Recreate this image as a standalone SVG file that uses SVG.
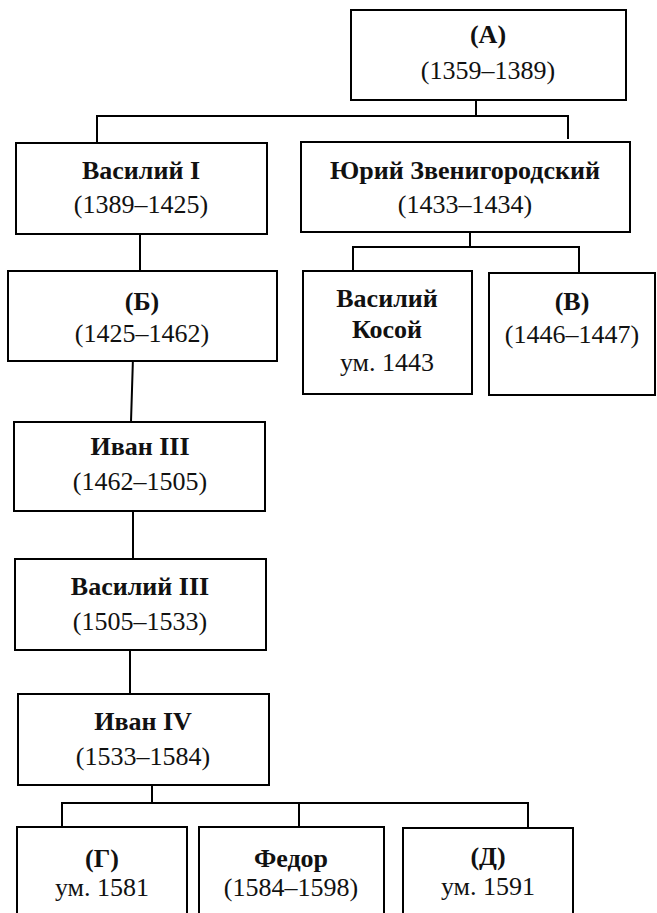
<svg xmlns="http://www.w3.org/2000/svg" width="657" height="913" viewBox="0 0 657 913">
<style>
rect{fill:#fff;stroke:#000;stroke-width:2}
.c path{fill:none;stroke:#000;stroke-width:2}
text{font-family:'Liberation Serif','Times New Roman',serif;font-size:26px;text-anchor:middle;fill:#111}
.b{font-weight:bold}
</style>
<rect x="0" y="0" width="657" height="913" style="stroke:none"/>
<g class="c">
<path d="M476 95V116M97 143V116H568V139"/>
<path d="M140 225V272"/>
<path d="M470 227V247M353 271V247H579V273"/>
<path d="M133 357L131 422"/>
<path d="M133 507V559"/>
<path d="M130 643V694"/>
<path d="M152 782V803M62 827V803H528V828M299 803V827"/>
</g>
<g id="a"><rect x="351" y="10" width="275" height="90"/><text x="488" y="43" class="b">(A)</text><text x="488" y="79">(1359–1389)</text></g>
<g id="vasily1"><rect x="16" y="143" width="251" height="91"/><text x="141" y="179" class="b">Василий I</text><text x="141" y="213">(1389–1425)</text></g>
<g id="yuri"><rect x="301" y="142" width="329" height="90"/><text x="465" y="179" class="b">Юрий Звенигородский</text><text x="465" y="213">(1433–1434)</text></g>
<g id="b"><rect x="8" y="271" width="269" height="90"/><text x="142" y="310" class="b">(Б)</text><text x="142" y="342">(1425–1462)</text></g>
<g id="kosoy"><rect x="303" y="271" width="169" height="123"/><text x="387" y="307" class="b">Василий</text><text x="387" y="338" class="b">Косой</text><text x="387" y="371">ум. 1443</text></g>
<g id="v"><rect x="489" y="273" width="166" height="122"/><text x="572" y="310" class="b">(В)</text><text x="572" y="343">(1446–1447)</text></g>
<g id="ivan3"><rect x="14" y="422" width="251" height="89"/><text x="140" y="455" class="b">Иван III</text><text x="140" y="490">(1462–1505)</text></g>
<g id="vasily3"><rect x="15" y="559" width="251" height="91"/><text x="140" y="595" class="b">Василий III</text><text x="140" y="630">(1505–1533)</text></g>
<g id="ivan4"><rect x="18" y="694" width="251" height="91"/><text x="143" y="730" class="b">Иван IV</text><text x="143" y="765">(1533–1584)</text></g>
<g id="g"><rect x="17" y="827" width="170" height="100"/><text x="102" y="867" class="b">(Г)</text><text x="102" y="896">ум. 1581</text></g>
<g id="fedor"><rect x="199" y="827" width="185" height="100"/><text x="291" y="867" class="b">Федор</text><text x="291" y="896">(1584–1598)</text></g>
<g id="d"><rect x="403" y="828" width="170" height="100"/><text x="488" y="865" class="b">(Д)</text><text x="488" y="895">ум. 1591</text></g>
</svg>
